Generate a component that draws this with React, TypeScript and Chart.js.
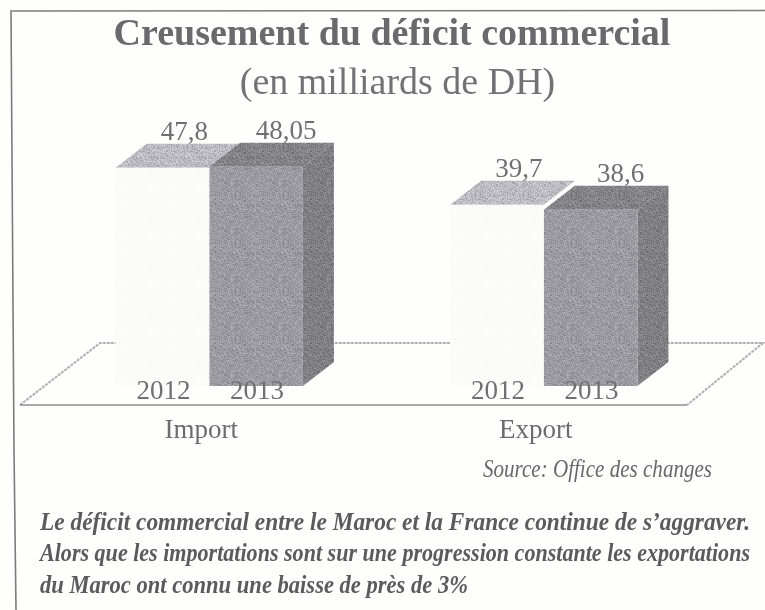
import React, { useEffect, useRef } from "react";
import { Chart, registerables } from "chart.js";

Chart.register(...registerables);

const categories = ["Import", "Export"];
const yearLabels = ["2012", "2013"];
const values2012 = [47.8, 39.7];
const values2013 = [48.05, 38.6];
const titleText = "Creusement du déficit commercial";
const subtitleText = "(en milliards de DH)";
const sourceText = "Source: Office des changes";
const noteLines = [
  "Le déficit commercial entre le Maroc et la France continue de s’aggraver.",
  "Alors que les importations sont sur une progression constante les exportations",
  "du Maroc ont connu une baisse de près de 3%",
];

const SERIF = '"Liberation Serif", "Times New Roman", serif';
const DEPTH_X = 31;
const DEPTH_Y = 24;

function speckle(r: number, g: number, b: number, amp: number): CanvasPattern | string {
  const c = document.createElement("canvas");
  c.width = 48;
  c.height = 48;
  const x = c.getContext("2d");
  if (!x) return `rgb(${r},${g},${b})`;
  for (let i = 0; i < 48; i++) {
    for (let j = 0; j < 48; j++) {
      const h = Math.sin(i * 12.9898 + j * 78.233) * 43758.5453;
      const n = (h - Math.floor(h) - 0.5) * amp;
      x.fillStyle = `rgb(${r + n},${g + n},${b + n})`;
      x.fillRect(i, j, 1, 1);
    }
  }
  return x.createPattern(c, "repeat") || `rgb(${r},${g},${b})`;
}

function poly(ctx: CanvasRenderingContext2D, pts: number[][], fill: any) {
  ctx.fillStyle = fill;
  ctx.beginPath();
  pts.forEach((p, i) => (i ? ctx.lineTo(p[0], p[1]) : ctx.moveTo(p[0], p[1])));
  ctx.closePath();
  ctx.fill();
}

export default function App() {
  const ref = useRef<HTMLCanvasElement>(null);
  useEffect(() => {
    if (!ref.current) return;
    const top2012 = speckle(186, 186, 192, 50);
    const front2012 = speckle(251, 251, 249, 6);
    const front2013 = speckle(154, 154, 160, 42);
    const top2013 = speckle(130, 130, 135, 42);
    const side2013 = speckle(126, 126, 131, 42);

    const plugin = {
      id: "scene",
      afterLayout(chart: any) {
        chart.boxes.forEach((b: any) => {
          const t = b.options && b.options.text;
          const d = t === titleText ? 15.5 : t === subtitleText ? 21 : 0;
          if (d) {
            b.left += d;
            b.right += d;
          }
        });
      },
      beforeDraw(chart: any) {
        const { ctx, width, height } = chart;
        ctx.save();
        ctx.fillStyle = "#fefefd";
        ctx.fillRect(0, 0, width, height);
        ctx.strokeStyle = "#7c7c7e";
        ctx.lineWidth = 1.6;
        ctx.beginPath();
        ctx.moveTo(width, 10.5);
        ctx.lineTo(11, 11);
        ctx.lineTo(14, 450);
        ctx.lineTo(16, height);
        ctx.stroke();
        ctx.restore();
      },
      beforeDatasetsDraw(chart: any) {
        const { ctx, scales } = chart;
        const base = scales.y.getPixelForValue(0);
        const front = base + 19;
        const back = base - 43;
        const l = chart.chartArea.left - 22;
        const r = chart.chartArea.right - 24;
        ctx.save();
        ctx.strokeStyle = "#b0b0b4";
        ctx.lineWidth = 2;
        ctx.setLineDash([3, 1]);
        ctx.beginPath();
        ctx.moveTo(l, front);
        ctx.lineTo(l + 80, back);
        ctx.lineTo(r + 76, back);
        ctx.lineTo(r, front);
        ctx.stroke();
        ctx.setLineDash([]);
        ctx.strokeStyle = "#8e8e92";
        ctx.lineWidth = 1.6;
        ctx.beginPath();
        ctx.moveTo(l, front);
        ctx.lineTo(r, front);
        ctx.stroke();
        ctx.restore();
        [0, 1].forEach((index) => {
          const is2013 = index === 1;
          chart.getDatasetMeta(index).data.forEach((bar: any) => {
            const half = bar.width / 2;
            const x0 = bar.x - half;
            const x1 = bar.x + half;
            const y0 = bar.y;
            const y1 = bar.base;
            poly(ctx, [[x0, y0], [x0 + DEPTH_X, y0 - DEPTH_Y], [x1 + DEPTH_X, y0 - DEPTH_Y], [x1, y0]], is2013 ? top2013 : top2012);
            if (is2013) {
              poly(ctx, [[x1, y0], [x1 + DEPTH_X, y0 - DEPTH_Y], [x1 + DEPTH_X, y1 - DEPTH_Y], [x1, y1]], side2013);
            }
          });
        });
      },
      afterDatasetsDraw(chart: any) {
        const { ctx } = chart;
        ctx.save();
        ctx.textAlign = "center";
        ctx.textBaseline = "middle";
        ctx.font = `27px ${SERIF}`;
        ctx.fillStyle = "#707074";
        chart.data.datasets.forEach((ds: any, i: number) => {
          chart.getDatasetMeta(i).data.forEach((bar: any, j: number) => {
            ctx.fillText(String(ds.data[j]).replace(".", ","), bar.x + (i === 0 ? 22 : 30), bar.y - 35);
            ctx.fillText(ds.label, bar.x + 1, bar.base + 6);
          });
        });
        ctx.textAlign = "left";
        ctx.fillStyle = "#68686c";
        ctx.font = `italic 26px ${SERIF}`;
        ctx.fillText(sourceText, 483, 470, 229);
        ctx.fillStyle = "#5a5a5f";
        ctx.font = `italic bold 25px ${SERIF}`;
        [523.5, 554.5, 586.5].forEach((y, i) => {
          ctx.fillText(noteLines[i], 40, y, [710, 710, 428][i]);
        });
        ctx.restore();
      },
    };

    const chart = new Chart(ref.current, {
      type: "bar",
      data: {
        labels: categories,
        datasets: [
          { label: yearLabels[0], data: values2012, backgroundColor: front2012 as any },
          { label: yearLabels[1], data: values2013, backgroundColor: front2013 as any },
        ],
      },
      options: {
        responsive: false,
        animation: false,
        layout: { padding: { left: 42, right: 54, top: 0, bottom: 133.6 } },
        datasets: { bar: { barPercentage: 1, categoryPercentage: 0.56 } },
        plugins: {
          legend: { display: false },
          tooltip: { enabled: false },
          title: {
            display: true,
            text: titleText,
            color: "#69696e",
            font: { family: SERIF, size: 38, weight: "bold" },
            padding: { top: 12, bottom: 4 },
          },
          subtitle: {
            display: true,
            text: subtitleText,
            color: "#727276",
            font: { family: SERIF, size: 38, weight: "normal" },
            padding: { top: 0, bottom: 27.8 },
          },
        },
        scales: {
          x: {
            grid: { display: false, drawTicks: false },
            border: { display: false },
            ticks: {
              color: "#6c6c70",
              font: { family: SERIF, size: 27 },
              padding: 29,
              labelOffset: -8,
              maxRotation: 0,
            },
          },
          y: { display: false, min: 0, max: 55 },
        },
      },
      plugins: [plugin as any],
    });
    return () => chart.destroy();
  }, []);
  return (
    <canvas
      ref={ref}
      width={765}
      height={610}
      style={{ position: "absolute", left: 0, top: 0, display: "block", filter: "blur(0.5px)" }}
    />
  );
}
